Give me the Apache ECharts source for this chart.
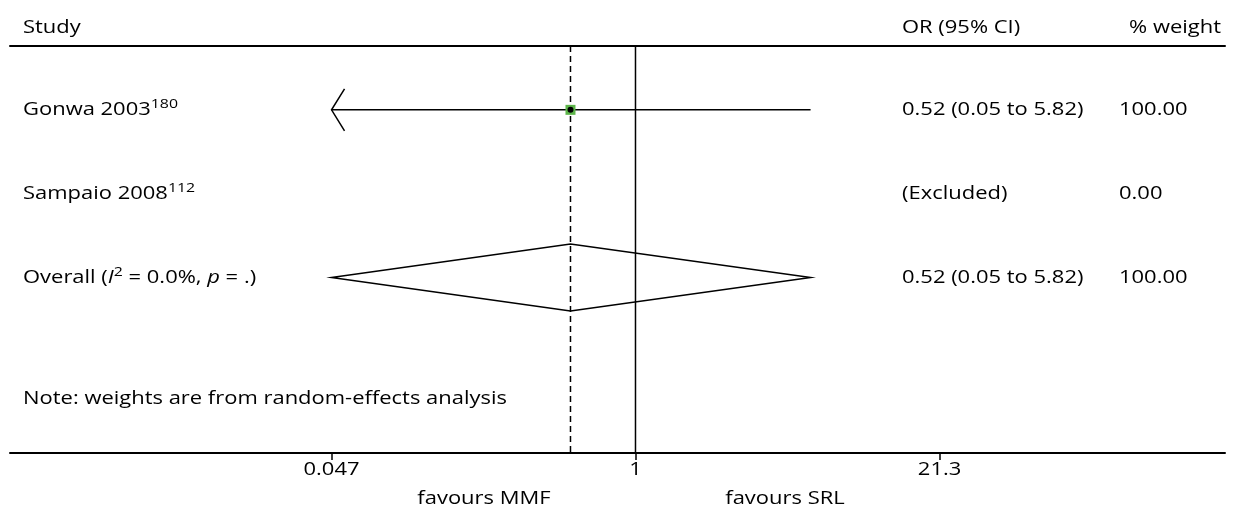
<!DOCTYPE html>
<html><head><meta charset="utf-8">
<script src="https://cdn.jsdelivr.net/npm/echarts@6/dist/echarts.min.js"></script>
<style>html,body{margin:0;padding:0;background:#fff}#c{width:1235px;height:513px}</style>
</head><body><div id="c"></div>
<script>
// ---- data ----
const studies = ['Gonwa 2003', 'Sampaio 2008', 'Overall'];
const refs = ['180', '112', ''];
const orEst = [0.52, null, 0.52];
const ciLow = [0.046, null, 0.046];
const ciHigh = [5.82, null, 5.82];
const ciText = ['0.52 (0.05 to 5.82)', '(Excluded)', '0.52 (0.05 to 5.82)'];
const weights = ['100.00', '0.00', '100.00'];
const overallStats = { i2: '0.0%', p: '.' };
const noteText = 'Note: weights are from random-effects analysis';
const tickValues = [0.047, 1, 21.3];
const tickLabels = ['0.047', '1', '21.3'];
const headers = ['Study', 'OR (95% CI)', '% weight'];
const favours = ['favours MMF', 'favours SRL'];

// ---- setup ----
const FONT = '"Open Sans", "Noto Sans", sans-serif';
const FS = 18;
const SX = 1.22;
const L = v => Math.log10(v);
const chart = echarts.init(document.getElementById('c'));
const xMin = -2.7326, xMax = 2.5754;
const yMin = 0.238, yMax = 5.095;
const plotMin = L(tickValues[0]);
const overallIdx = 2;
const noteRow = 4.45;
const tickLabelRow = 5.30;
const favoursRow = 5.64;
const favoursPos = [-0.662, 0.653];

const rich = {
  n: { fontSize: FS, fontFamily: FONT, color: '#000', lineHeight: 24 },
  i: { fontSize: FS, fontFamily: FONT, fontStyle: 'italic', color: '#000', lineHeight: 24 },
  s: { fontSize: 13, fontFamily: FONT, color: '#000', lineHeight: 24, padding: [0, 0, 11, 0] }
};
function studyLabel(i) {
  if (i === overallIdx) {
    return '{n|' + studies[i] + ' (}{i|I}{s|2}{n| = ' + overallStats.i2 + ', }{i|p}{n| = ' + overallStats.p + ')}';
  }
  return '{n|' + studies[i] + '}{s|' + refs[i] + '}';
}
function txt(x, y, text, align) {
  return { type: 'text', x: x, y: y, scaleX: SX,
    style: { text: text, fill: '#000', fontSize: FS, fontFamily: FONT, align: align || 'left', verticalAlign: 'middle' } };
}

const rowData = studies.map((s, i) => [xMin, i + 1, i]);
const ciData = [];
studies.forEach((s, i) => { if (i !== overallIdx && orEst[i] != null) ciData.push([L(orEst[i]), i + 1, L(ciLow[i]), L(ciHigh[i])]); });
const diamondData = [[L(orEst[overallIdx]), overallIdx + 1, L(ciLow[overallIdx]), L(ciHigh[overallIdx])]];
const vlineData = [[L(orEst[overallIdx]), 1], [L(1), 0]];
const tickLabelData = tickValues.map((t, j) => [L(t), tickLabelRow, j]);
const favoursData = favoursPos.map((p, j) => [p, favoursRow, j]);

const option = {
  animation: false,
  backgroundColor: '#fff',
  grid: { left: 10, right: 10, top: 46, bottom: 60 },
  xAxis: [{
    type: 'value', min: xMin, max: xMax, position: 'bottom',
    axisLine: { show: true, lineStyle: { color: '#000', width: 2 } },
    axisTick: { show: true, customValues: tickValues.map(L), length: 7, lineStyle: { color: '#000', width: 1.5 } },
    axisLabel: { show: false },
    splitLine: { show: false }
  }, {
    type: 'value', min: xMin, max: xMax, position: 'top',
    axisLine: { show: true, lineStyle: { color: '#000', width: 2 } },
    axisTick: { show: false }, axisLabel: { show: false }, splitLine: { show: false }
  }],
  yAxis: { type: 'value', inverse: true, min: yMin, max: yMax, show: false },
  series: [
    { // vertical reference lines
      type: 'custom', data: vlineData, z: 1,
      renderItem(params, api) {
        const p1 = api.coord([api.value(0), yMin]);
        const p2 = api.coord([api.value(0), yMax]);
        return { type: 'line', shape: { x1: p1[0], y1: p1[1], x2: p2[0], y2: p2[1] },
          style: { stroke: '#000', lineWidth: 1.5, lineDash: api.value(1) ? [6, 4] : null } };
      }
    },
    { // CI lines and study markers
      type: 'custom', data: ciData, z: 3,
      renderItem(params, api) {
        const est = api.value(0), row = api.value(1), lo = api.value(2), hi = api.value(3);
        const lo2 = Math.max(lo, plotMin);
        const pL = api.coord([lo2, row]), pH = api.coord([hi, row]), pE = api.coord([est, row]);
        const children = [{ type: 'line', shape: { x1: pL[0], y1: pL[1], x2: pH[0], y2: pH[1] }, style: { stroke: '#000', lineWidth: 1.5 } }];
        if (lo < plotMin) {
          children.push({ type: 'polyline', shape: { points: [[pL[0] + 13, pL[1] - 21], [pL[0], pL[1]], [pL[0] + 13, pL[1] + 21]] }, style: { stroke: '#000', lineWidth: 1.5, fill: null } });
        }
        children.push({ type: 'rect', shape: { x: pE[0] - 5, y: pE[1] - 5, width: 10, height: 10 }, style: { fill: '#5db54a' } });
        children.push({ type: 'circle', shape: { cx: pE[0], cy: pE[1], r: 3 }, style: { fill: '#000' } });
        return { type: 'group', children };
      }
    },
    { // overall diamond
      type: 'custom', data: diamondData, z: 3,
      renderItem(params, api) {
        const est = api.value(0), row = api.value(1);
        const lo = Math.max(api.value(2), plotMin), hi = api.value(3);
        const top = api.coord([est, row - 0.4]), bot = api.coord([est, row + 0.4]);
        const pl = api.coord([lo, row]), ph = api.coord([hi, row]);
        return { type: 'polygon', shape: { points: [pl, top, ph, bot] }, style: { fill: 'rgba(0,0,0,0)', stroke: '#000', lineWidth: 1.5 } };
      }
    },
    { // row texts
      type: 'custom', data: rowData, z: 4,
      renderItem(params, api) {
        const i = api.value(2);
        const y = api.coord([xMin, api.value(1)])[1];
        return { type: 'group', children: [
          { type: 'text', x: 23, y: y, scaleX: SX, style: { text: studyLabel(i), rich, verticalAlign: 'middle', align: 'left', fontSize: FS, fontFamily: FONT } },
          txt(902, y, ciText[i]),
          txt(1119, y, weights[i])
        ] };
      }
    },
    { // note
      type: 'custom', data: [[xMin, noteRow]], z: 4,
      renderItem(params, api) {
        const y = api.coord([xMin, api.value(1)])[1];
        return txt(23, y, noteText);
      }
    },
    { // tick labels
      type: 'custom', data: tickLabelData, z: 4, clip: false,
      renderItem(params, api) {
        const p = api.coord([api.value(0), api.value(1)]);
        return txt(p[0], p[1], tickLabels[api.value(2)], 'center');
      }
    },
    { // favours labels
      type: 'custom', data: favoursData, z: 4, clip: false,
      renderItem(params, api) {
        const p = api.coord([api.value(0), api.value(1)]);
        return txt(p[0], p[1], favours[api.value(2)], 'center');
      }
    }
  ],
  graphic: [
    txt(23, 28, headers[0]),
    txt(902, 28, headers[1]),
    txt(1221, 28, headers[2], 'right')
  ]
};
chart.setOption(option);
</script>
</body></html>
